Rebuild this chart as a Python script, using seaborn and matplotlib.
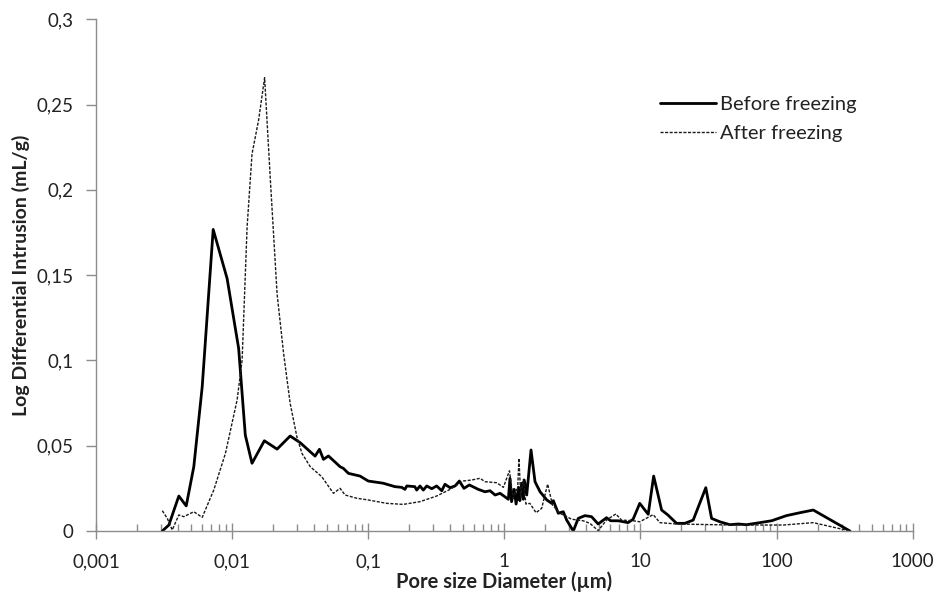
import numpy as np
import pandas as pd
import matplotlib
matplotlib.use("Agg")
import matplotlib.pyplot as plt
import matplotlib.ticker as mticker
import seaborn as sns

# ---- data ----
before_x = [0.00307, 0.00343, 0.00406, 0.00460, 0.00523, 0.00603, 0.00726, 0.00919,
            0.01117, 0.0125, 0.0140, 0.01725, 0.0214, 0.0267, 0.0316, 0.0407, 0.0438,
            0.0469, 0.0510, 0.0621, 0.0657, 0.0715, 0.0871, 0.100,
            0.129, 0.157, 0.176, 0.186, 0.192, 0.220, 0.227, 0.240, 0.254, 0.269,
            0.293, 0.318, 0.347, 0.366, 0.399, 0.434, 0.467, 0.505, 0.553, 0.644,
            0.721, 0.785, 0.855, 0.930, 1.07, 1.10, 1.13, 1.18, 1.22, 1.27, 1.30,
            1.34, 1.38, 1.40, 1.46, 1.57, 1.68, 1.83, 2.05, 2.23, 2.29, 2.49, 2.71,
            2.87, 3.21, 3.49, 3.91, 4.37, 4.89, 5.63, 6.03, 6.85, 8.11, 8.83, 9.88,
            11.4, 12.5, 14.3, 15.9, 18.4, 21.2, 24.4, 30.2, 33.3, 38.3, 45.4, 52.2,
            60.2, 75.4, 91.9, 118, 148, 186, 346]
before_y = [0.0, 0.0035, 0.0205, 0.0147, 0.0377, 0.0846, 0.1768, 0.148,
            0.107, 0.0562, 0.0397, 0.0529, 0.048, 0.0557, 0.0518, 0.0439, 0.0479,
            0.042, 0.044, 0.0377, 0.0367, 0.0338, 0.0322, 0.0293,
            0.028, 0.026, 0.0256, 0.0244, 0.0264, 0.026, 0.024, 0.0264, 0.024, 0.0264,
            0.0248, 0.0264, 0.0236, 0.0274, 0.0254, 0.0264, 0.0293, 0.025, 0.027, 0.0244,
            0.023, 0.0236, 0.0211, 0.0221, 0.0186, 0.0309, 0.0172, 0.0244, 0.0158, 0.0256, 0.0178,
            0.028, 0.0186, 0.0299, 0.0211, 0.0475, 0.0289, 0.023, 0.0182, 0.0162, 0.0178, 0.0104, 0.0113,
            0.0064, 0.0, 0.0074, 0.009, 0.0084, 0.0041, 0.0078, 0.006, 0.006, 0.0049, 0.0069, 0.0162,
            0.0098, 0.0322, 0.0123, 0.0094, 0.0045, 0.0045, 0.0064, 0.0254, 0.0074, 0.0054, 0.0037, 0.0041,
            0.0037, 0.0049, 0.006, 0.009, 0.0107, 0.0123, 0.0]

after_x = [0.00307, 0.00334, 0.00363, 0.00406, 0.00442, 0.00523, 0.00603, 0.00733,
           0.00893, 0.01088, 0.01184, 0.01288, 0.01400, 0.01566, 0.01733, 0.0191,
           0.0214, 0.0239, 0.0267, 0.0299, 0.0326, 0.0375, 0.0456, 0.0555, 0.0621,
           0.0676, 0.0824, 0.100,
           0.137, 0.181, 0.240, 0.318, 0.399, 0.500, 0.576, 0.663, 0.721, 0.879,
           0.984, 1.09, 1.16, 1.22, 1.25, 1.28, 1.32, 1.38, 1.44, 1.54, 1.71, 1.88,
           2.08, 2.26, 2.56, 2.87, 3.12, 3.79, 4.25, 4.89, 5.63, 6.59, 7.26, 8.83,
           9.88, 12.4, 13.9, 18.4, 48.0, 112, 186, 346]
after_y = [0.0119, 0.0074, 0.0006, 0.0094, 0.0084, 0.0113, 0.008, 0.024,
           0.0455, 0.0768, 0.100, 0.178, 0.221, 0.241, 0.2658, 0.2057,
           0.139, 0.104, 0.0748, 0.0553, 0.0455, 0.0377, 0.0318, 0.0221, 0.025,
           0.0211, 0.0192, 0.0182,
           0.0162, 0.0156, 0.0172, 0.0205, 0.0244, 0.0293, 0.0299, 0.0309, 0.0289, 0.0283,
           0.0256, 0.0353, 0.0192, 0.0244, 0.0236, 0.0426, 0.0201, 0.0303, 0.0158, 0.0162, 0.0107, 0.0133,
           0.0275, 0.0152, 0.0104, 0.0084, 0.0069, 0.006, 0.0045, 0.0002, 0.0064, 0.01, 0.0064, 0.006,
           0.0054, 0.0096, 0.0049, 0.0041, 0.0035, 0.0035, 0.0049, 0.0]

series_names = ["Before freezing", "After freezing"]
x_major = [0.001, 0.01, 0.1, 1, 10, 100, 1000]
x_labels = ["0,001", "0,01", "0,1", "1", "10", "100", "1000"]
y_major = [0, 0.05, 0.1, 0.15, 0.2, 0.25, 0.3]
y_labels = ["0", "0,05", "0,1", "0,15", "0,2", "0,25", "0,3"]

df_before = pd.DataFrame({"x": before_x, "y": before_y})
df_after = pd.DataFrame({"x": after_x, "y": after_y})

sns.set_theme(style="white")
plt.rcParams["font.family"] = ["Lato", "DejaVu Sans"]

fig = plt.figure(figsize=(9.36, 5.98), dpi=100)
ax = fig.add_axes([96 / 936, 1 - 531 / 598, (912.7 - 96) / 936, (531 - 19.3) / 598])

sns.lineplot(data=df_before, x="x", y="y", ax=ax, color="black", linewidth=2.0,
             sort=False, estimator=None, label=series_names[0])
sns.lineplot(data=df_after, x="x", y="y", ax=ax, color="#1a1a1a", linewidth=1.0,
             linestyle=(0, (2.2, 1.1)), sort=False, estimator=None, label=series_names[1])

ax.set_xscale("log")
ax.set_xlim(0.001, 1000)
ax.set_ylim(0, 0.3)

ax.xaxis.set_major_locator(mticker.FixedLocator(x_major))
ax.xaxis.set_major_formatter(mticker.FixedFormatter(x_labels))
ax.xaxis.set_minor_locator(mticker.LogLocator(base=10, subs=np.arange(2, 10), numticks=20))
ax.xaxis.set_minor_formatter(mticker.NullFormatter())
ax.set_yticks(y_major)
ax.set_yticklabels(y_labels)

spine_col = "#8c8c8c"
for s in ["top", "right"]:
    ax.spines[s].set_visible(False)
for s in ["left", "bottom"]:
    ax.spines[s].set_color(spine_col)
    ax.spines[s].set_linewidth(1.0)

ax.tick_params(axis="y", which="major", direction="out", length=7, width=1,
               color=spine_col, left=True, labelsize=13.5, pad=9, labelcolor="#222222")
ax.tick_params(axis="x", which="major", direction="inout", length=12, width=1,
               color=spine_col, bottom=True, labelsize=13.5, pad=10, labelcolor="#222222")
ax.tick_params(axis="x", which="minor", direction="in", length=5, width=1,
               color=spine_col, bottom=True)

ax.set_xlabel("Pore size Diameter (µm)", fontsize=14.5, fontweight="bold", labelpad=1,
              color="#222222")
ax.set_ylabel("Log Differential Intrusion (mL/g)", fontsize=14, fontweight="bold",
              labelpad=5, color="#222222")

leg = ax.legend(loc="upper left", bbox_to_anchor=(0.69, 0.85), frameon=False,
                fontsize=14.5, handlelength=2.8, handletextpad=0.2, labelspacing=0.6,
                borderaxespad=0, borderpad=0)
for t in leg.get_texts():
    t.set_color("#222222")

fig.savefig("out.png", dpi=100)
